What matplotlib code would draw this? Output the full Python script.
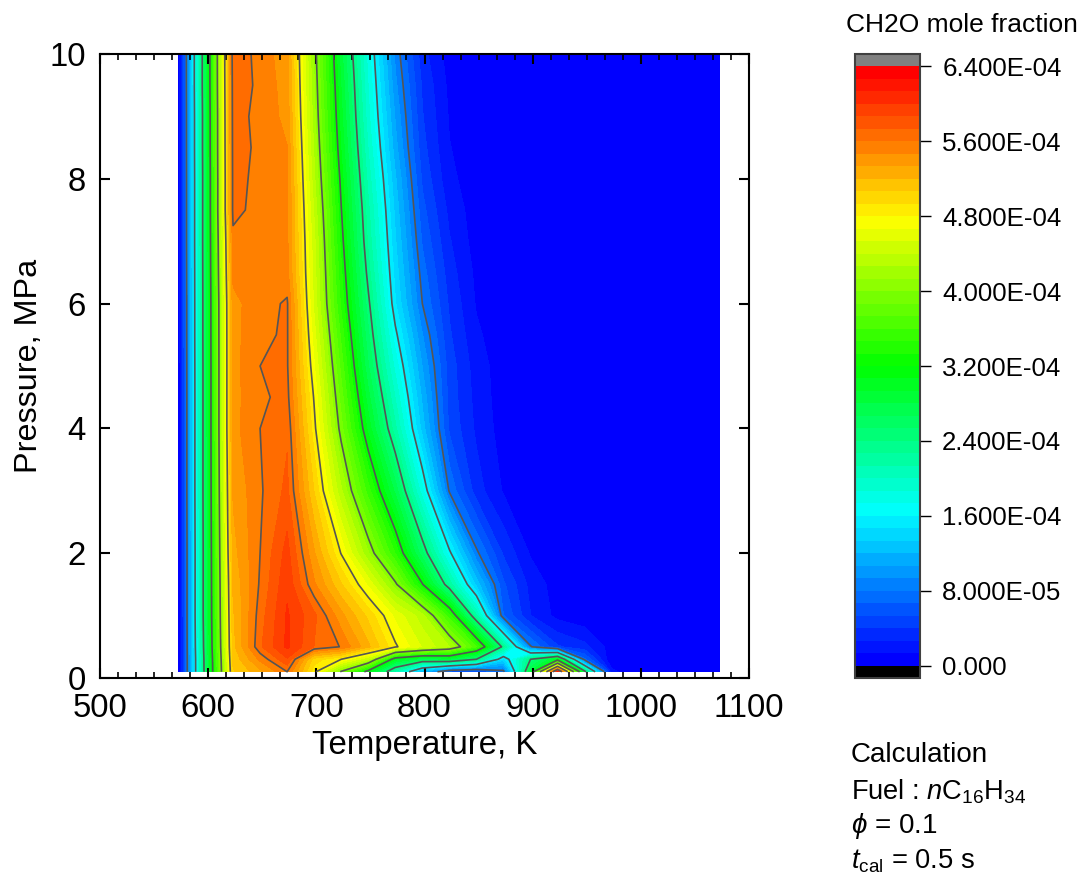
import numpy as np
import matplotlib
matplotlib.use("Agg")
import matplotlib.pyplot as plt
from matplotlib.cm import ScalarMappable
from matplotlib.colors import BoundaryNorm, LinearSegmentedColormap, ListedColormap
from matplotlib.ticker import AutoMinorLocator

plt.rcParams['font.family'] = ['Liberation Sans', 'DejaVu Sans']
plt.rcParams['mathtext.fontset'] = 'custom'
plt.rcParams['mathtext.rm'] = 'Liberation Sans'
plt.rcParams['mathtext.it'] = 'Liberation Sans:italic'

temperature = [573, 598, 623, 648, 673, 698, 723, 748, 773, 798, 823,
               848, 873, 898, 923, 948, 973, 998, 1023, 1048, 1073]
pressure = [0.1, 0.3, 0.5, 1, 1.5, 2, 3, 4, 4.5, 5, 5.5, 6, 6.5, 7, 7.5, 8, 8.5, 9, 9.5, 10]

# CH2O mole fraction in units of 1E-04, one row per pressure
p_0_1 = [0, 2.59, 5.05, 5.29, 5.6, 4.86, 3.97, 3.07, 2.08, 1.13, .54, .45, .73, 2.82, 6.2, 2.52, .18, 0, 0, 0, 0]
p_0_3 = [0, 2.6, 5.1, 5.5, 5.85, 5.0, 4.8, 4.4, 3.0, 2.7, 2.8, 2.4, 1.4, 2.4, 3.0, .7, 0, 0, 0, 0, 0]
p_0_5 = [0, 2.64, 5.15, 5.71, 6.03, 5.73, 5.59, 5.23, 4.83, 4.52, 4.27, 3.61, 2.31, .82, .42, .31, .07, 0, 0, 0, 0]
p_1_0 = [0, 2.68, 5.18, 5.67, 6.02, 5.77, 5.38, 5.03, 4.63, 4.32, 3.52, 2.16, .67, .27, .09, .03, 0, 0, 0, 0, 0]
p_1_5 = [0, 2.68, 5.22, 5.62, 5.97, 5.49, 5.08, 4.64, 4.05, 3.22, 2.23, 1.28, .56, .22, .07, .01, 0, 0, 0, 0, 0]
p_2_0 = [0, 2.68, 5.28, 5.6, 5.92, 5.35, 4.79, 4.15, 3.46, 2.57, 1.65, .84, .38, .12, .03, 0, 0, 0, 0, 0, 0]
p_3_0 = [.02, 2.7, 5.35, 5.58, 5.77, 5.06, 4.29, 3.53, 2.76, 1.78, .78, .33, .12, .03, 0, 0, 0, 0, 0, 0, 0]
p_4_0 = [.02, 2.7, 5.42, 5.6, 5.71, 4.85, 3.92, 3.02, 2.17, 1.27, .51, .24, .07, .01, 0, 0, 0, 0, 0, 0, 0]
p_4_5 = [.02, 2.7, 5.42, 5.57, 5.65, 4.78, 3.8, 2.85, 1.99, 1.17, .48, .22, .06, 0, 0, 0, 0, 0, 0, 0, 0]
p_5_0 = [.03, 2.7, 5.42, 5.6, 5.62, 4.68, 3.68, 2.68, 1.82, 1.06, .47, .2, .06, 0, 0, 0, 0, 0, 0, 0, 0]
p_5_5 = [.04, 2.71, 5.42, 5.57, 5.62, 4.59, 3.56, 2.56, 1.65, .94, .42, .16, .04, 0, 0, 0, 0, 0, 0, 0, 0]
p_6_0 = [.04, 2.71, 5.43, 5.54, 5.62, 4.5, 3.43, 2.45, 1.48, .8, .38, .12, .03, 0, 0, 0, 0, 0, 0, 0, 0]
p_6_5 = [.04, 2.72, 5.5, 5.5, 5.52, 4.47, 3.36, 2.33, 1.41, .73, .33, .1, .02, 0, 0, 0, 0, 0, 0, 0, 0]
p_7_0 = [.05, 2.73, 5.55, 5.52, 5.5, 4.44, 3.28, 2.23, 1.35, .65, .28, .07, .01, 0, 0, 0, 0, 0, 0, 0, 0]
p_7_5 = [.05, 2.73, 5.65, 5.54, 5.5, 4.38, 3.21, 2.17, 1.29, .58, .23, .06, 0, 0, 0, 0, 0, 0, 0, 0, 0]
p_8_0 = [.05, 2.73, 5.65, 5.56, 5.5, 4.3, 3.14, 2.08, 1.22, .51, .17, .05, 0, 0, 0, 0, 0, 0, 0, 0, 0]
p_8_5 = [.05, 2.75, 5.66, 5.57, 5.47, 4.24, 3.05, 1.99, 1.12, .45, .14, .04, 0, 0, 0, 0, 0, 0, 0, 0, 0]
p_9_0 = [.05, 2.75, 5.67, 5.55, 5.43, 4.18, 2.98, 1.91, 1.05, .41, .12, .04, 0, 0, 0, 0, 0, 0, 0, 0, 0]
p_9_5 = [.05, 2.78, 5.68, 5.57, 5.4, 4.14, 2.92, 1.86, .97, .38, .1, .03, 0, 0, 0, 0, 0, 0, 0, 0, 0]
p_10 = [.05, 2.78, 5.7, 5.55, 5.38, 4.1, 2.85, 1.8, .9, .32, .07, .02, 0, 0, 0, 0, 0, 0, 0, 0, 0]

rows = [p_0_1, p_0_3, p_0_5, p_1_0, p_1_5, p_2_0, p_3_0, p_4_0, p_4_5, p_5_0, p_5_5,
        p_6_0, p_6_5, p_7_0, p_7_5, p_8_0, p_8_5, p_9_0, p_9_5, p_10]

cbar_ticks = [0, 0.8, 1.6, 2.4, 3.2, 4.0, 4.8, 5.6, 6.4]
cbar_labels = ["0.000", "8.000E-05", "1.600E-04", "2.400E-04", "3.200E-04",
               "4.000E-04", "4.800E-04", "5.600E-04", "6.400E-04"]
line_levels = [0.8, 1.6, 2.4, 3.2, 4.0, 4.8, 5.6]

W, H = 1087, 880
fig = plt.figure(figsize=(W / 100, H / 100), dpi=100)


def px_axes(x0, y0, x1, y1):
    return fig.add_axes([x0 / W, 1 - y1 / H, (x1 - x0) / W, (y1 - y0) / H])


# 48 flat colour bands, blue to red
rainbow = LinearSegmentedColormap.from_list(
    "rainbow5", ["#0000ff", "#00ffff", "#00ff00", "#ffff00", "#ff0000"])
n_bands = 48
band_colors = [rainbow(i / (n_bands - 1)) for i in range(n_bands)]
cmap = ListedColormap(band_colors)
cmap.set_under("black")
cmap.set_over("#808080")
levels = np.linspace(0, 6.4, n_bands + 1)
norm = BoundaryNorm(levels, n_bands)

ax = px_axes(100, 54, 749, 678)
T, P = np.meshgrid(temperature, pressure)
Z = np.array(rows)
ax.contourf(T, P, Z, levels=levels, cmap=cmap, norm=norm)
ax.contour(T, P, Z, levels=line_levels, colors="#555555", linewidths=1.2)

ax.set_xlim(500, 1100)
ax.set_ylim(0, 10)
ax.set_xticks(range(500, 1101, 100))
ax.set_yticks(range(0, 11, 2))
ax.xaxis.set_minor_locator(AutoMinorLocator(6))
ax.tick_params(axis='both', which='major', direction='in', top=True, right=True,
               length=7, width=1.5, labelsize=23.7)
ax.tick_params(axis='x', which='major', pad=11)
ax.tick_params(axis='y', which='major', pad=10)
ax.tick_params(axis='x', which='minor', direction='in', top=True, length=4, width=1.2)
for spine in ax.spines.values():
    spine.set_linewidth(1.5)
    spine.set_zorder(5)
ax.set_xlabel("Temperature, K", fontsize=23.8, labelpad=4)
ax.set_ylabel("Pressure, MPa", fontsize=23.3, labelpad=4)

cax = px_axes(855, 54, 920, 678)
sm = ScalarMappable(norm=norm, cmap=cmap)
cbar = fig.colorbar(sm, cax=cax, extend='both', extendrect=True,
                    extendfrac=12.5 / 600, ticks=cbar_ticks, spacing='proportional')
cbar.ax.set_yticklabels(cbar_labels)
cbar.ax.minorticks_off()
cbar.ax.tick_params(length=8, width=1.0, labelsize=18.6, pad=8)
cbar.outline.set_edgecolor("#404040")
cbar.outline.set_linewidth(1.5)

fig.text(846 / W, 1 - 32 / H, "CH2O mole fraction", fontsize=19, va='baseline')
fig.text(851 / W, 1 - 762 / H, "Calculation", fontsize=20, va='baseline')
fig.text(851 / W, 1 - 799 / H, r"Fuel : $\mathit{n}\mathrm{C}_{16}\mathrm{H}_{34}$", fontsize=19.6, va='baseline')
fig.text(851 / W, 1 - 833 / H, r"$\phi$ = 0.1", fontsize=20, va='baseline')
fig.text(851 / W, 1 - 868 / H, r"$\mathit{t}_{\mathrm{cal}}$ = 0.5 s", fontsize=19.6, va='baseline')

fig.savefig("out.png", dpi=100)
